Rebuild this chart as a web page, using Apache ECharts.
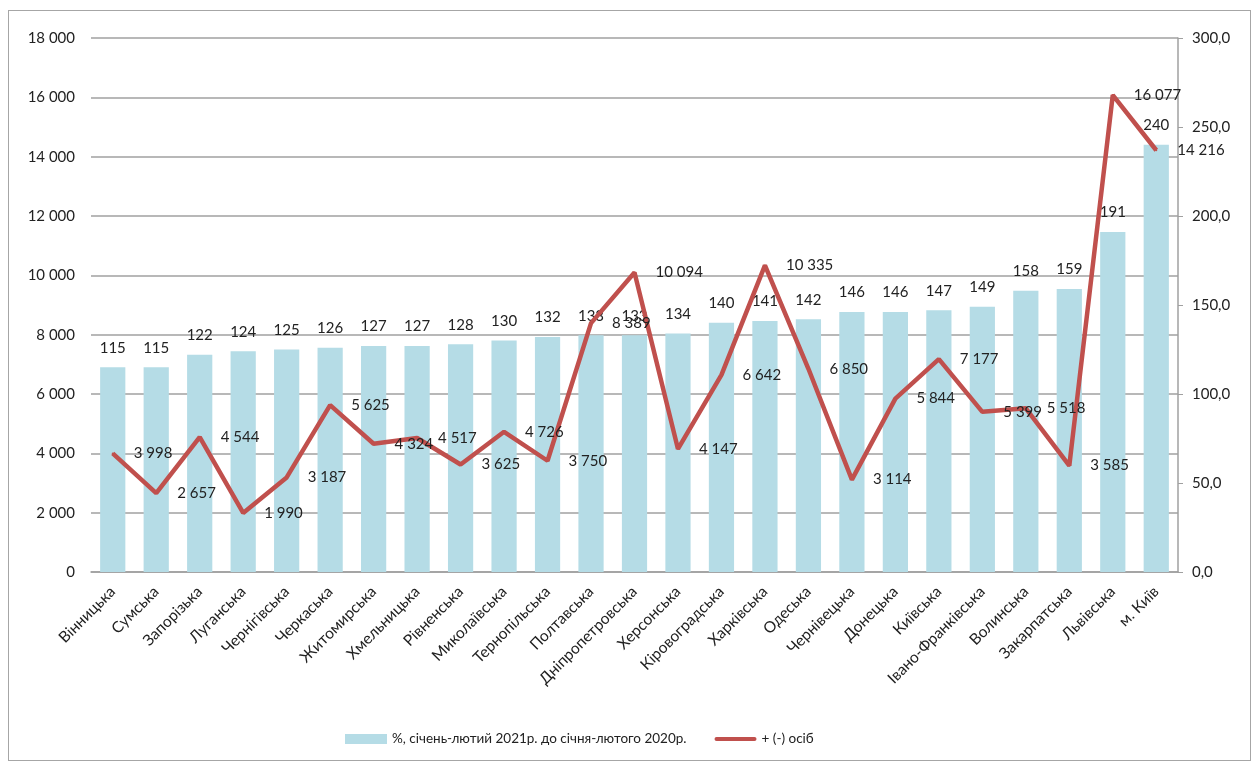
<!DOCTYPE html>
<html><head><meta charset="utf-8">
<script src="https://cdn.jsdelivr.net/npm/echarts@6/dist/echarts.min.js"></script>
<style>
html,body{margin:0;padding:0;background:#fff;}
#frame{position:absolute;left:8px;top:10px;width:1243px;height:751px;border:1px solid #a6a6a6;box-sizing:border-box;}
#c{position:absolute;left:0;top:0;width:1259px;height:764px;}
</style></head><body>
<div id="frame"></div>
<div id="c"></div>
<script>
const categories = ['Вінницька','Сумська','Запорізька','Луганська','Чернігівська','Черкаська','Житомирська','Хмельницька','Рівненська','Миколаївська','Тернопільська','Полтавська','Дніпропетровська','Херсонська','Кіровоградська','Харківська','Одеська','Чернівецька','Донецька','Київська','Івано-Франківська','Волинська','Закарпатська','Львівська','м. Київ'];
const percentValues = [115,115,122,124,125,126,127,127,128,130,132,133,133,134,140,141,142,146,146,147,149,158,159,191,240];
const personValues = [3998,2657,4544,1990,3187,5625,4324,4517,3625,4726,3750,8389,10094,4147,6642,10335,6850,3114,5844,7177,5399,5518,3585,16077,14216];
const barName = '%, січень-лютий 2021р. до січня-лютого 2020р.';
const lineName = '+ (-) осіб';

const fmtThousands = v => String(Math.round(v)).replace(/\B(?=(\d{3})+(?!\d))/g, ' ');
const FONT = 'Lato';
const chart = echarts.init(document.getElementById('c'));
chart.setOption({
  animation: false,
  textStyle: { fontFamily: FONT },
  grid: { left: 91, right: 81, top: 38, bottom: 192, containLabel: false },
  legend: {
    top: 727,
    left: 340,
    itemGap: 28,
    itemWidth: 42,
    itemHeight: 10,
    textStyle: { fontFamily: FONT, fontSize: 13.5, color: '#222' },
    data: [
      { name: barName, icon: 'rect' },
      { name: lineName, icon: 'path://M2,3 L40,3 A2,2 0 0 1 40,7 L2,7 A2,2 0 0 1 2,3 Z' }
    ]
  },
  xAxis: {
    type: 'category',
    data: categories,
    axisLine: { show: true, lineStyle: { color: '#9f9f9f', width: 1.5 } },
    axisTick: { show: false },
    axisLabel: { rotate: 45, fontSize: 15.5, color: '#222', margin: 17, interval: 0 }
  },
  yAxis: [
    {
      type: 'value', min: 0, max: 18000, interval: 2000, position: 'left',
      axisLine: { show: false }, axisTick: { show: false },
      splitLine: { show: true, lineStyle: { color: '#a0a0a0', width: 1.5 } },
      axisLabel: { fontSize: 15, color: '#222', margin: 16, formatter: v => fmtThousands(v) }
    },
    {
      type: 'value', min: 0, max: 300, interval: 50, position: 'right',
      axisLine: { show: true, lineStyle: { color: '#a0a0a0', width: 1.5 } },
      axisTick: { show: true, length: 5, lineStyle: { color: '#a0a0a0' } },
      splitLine: { show: false },
      axisLabel: { fontSize: 15, color: '#222', margin: 14, formatter: v => v.toFixed(1).replace('.', ',') }
    }
  ],
  series: [
    {
      name: barName, type: 'bar', yAxisIndex: 1, data: percentValues,
      barWidth: '58%',
      itemStyle: { color: '#b5dce6' },
      label: { show: true, position: 'top', distance: 12, fontSize: 15, color: '#222', fontFamily: FONT }
    },
    {
      name: lineName, type: 'line', yAxisIndex: 0, data: personValues,
      symbol: 'circle', symbolSize: 2,
      itemStyle: { color: '#c0504d' },
      lineStyle: { color: '#c0504d', width: 4.5 },
      label: { show: true, position: 'right', distance: 20, fontSize: 15, color: '#222', fontFamily: FONT, formatter: p => fmtThousands(p.value) },
      z: 3
    }
  ]
});
</script>
</body></html>
